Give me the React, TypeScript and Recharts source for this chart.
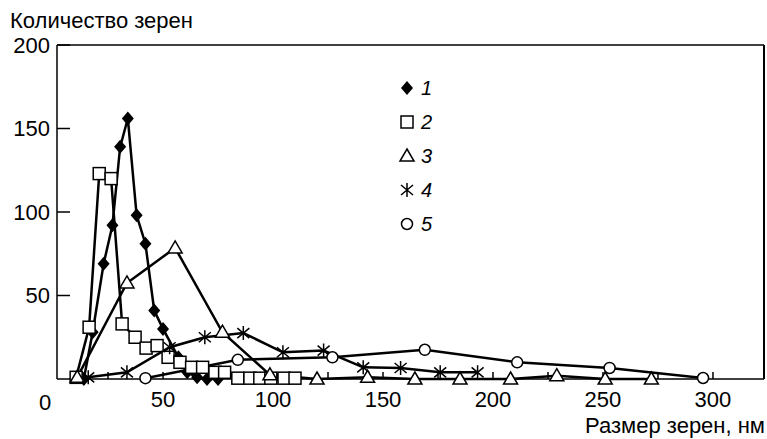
import { LineChart, Line, XAxis, YAxis, ReferenceLine, Legend, Label } from 'recharts';

// серия 1 (ромбы)
const s1X = [14, 18, 23, 27, 30.5, 34, 38, 42, 46, 50, 57, 61, 65.5, 70, 75];
const s1Y = [0, 28, 69, 92, 139, 156, 98, 81, 41, 30, 13, 4, 1, 0, 0];
// серия 2 (квадраты)
const s2X = [10.5, 16.4, 21, 26.4, 31.4, 37.3, 42.3, 47.3, 52.3, 57.7, 63, 68, 73.6, 78, 84, 89.5, 94, 99, 105, 110];
const s2Y = [1, 31, 123, 120, 33, 25, 18.5, 20, 13, 10, 7, 7, 4, 4, 0.5, 0.5, 0.5, 0.5, 0.5, 0.5];
// серия 3 (треугольники)
const s3X = [11, 33.6, 55.5, 77, 98.6, 120, 143, 164.5, 185, 208, 229, 251, 272];
const s3Y = [1, 57.5, 78.5, 28, 2.5, 0, 1, 0, 0, 0, 2, 0, 0];
// серия 4 (звёздочки)
const s4X = [16, 33.6, 53, 69, 86.5, 104.5, 123, 141, 158, 176, 193];
const s4Y = [1, 4, 19, 25, 27.5, 16, 17, 7, 6.6, 4, 4];
// серия 5 (кружки)
const s5X = [42, 84, 127, 169, 211, 253, 295.5];
const s5Y = [0.5, 11.5, 13, 17.5, 10, 6.6, 0.6];

const xTicks = [25, 50, 75, 100, 125, 150, 175, 200, 225, 250, 275, 300];
const yTicks = [50, 100, 150, 200];
const seriesNames = ['1', '2', '3', '4', '5'];

const FONT = '"Liberation Sans", Arial, sans-serif';

const toPoints = (xs: number[], ys: number[]) => xs.map((x, i) => ({ x, y: ys[i] }));

const Diamond = ({ cx, cy }: any) => (
    <path d={`M${cx},${cy - 7}L${cx + 6},${cy}L${cx},${cy + 7}L${cx - 6},${cy}Z`} fill="#000" />
);
const Square = ({ cx, cy }: any) => (
    <rect x={cx - 6} y={cy - 6} width={12} height={12} fill="#fff" stroke="#000" strokeWidth={1.5} />
);
const Triangle = ({ cx, cy }: any) => (
    <path d={`M${cx},${cy - 7}L${cx + 7},${cy + 5}L${cx - 7},${cy + 5}Z`} fill="#fff" stroke="#000" strokeWidth={1.5} />
);
const Star = ({ cx, cy }: any) => (
    <path d={`M${cx},${cy - 7}V${cy + 7}M${cx - 6},${cy - 5}L${cx + 6},${cy + 5}M${cx - 6},${cy + 5}L${cx + 6},${cy - 5}`} stroke="#000" strokeWidth={1.5} fill="none" />
);
const Circle = ({ cx, cy }: any) => (
    <circle cx={cx} cy={cy} r={5.5} fill="#fff" stroke="#000" strokeWidth={1.5} />
);

const shapes = [Diamond, Square, Triangle, Star, Circle];

const dotFn = (Shape: any) => (p: any) => {
    if (p.cx == null || p.cy == null) return <g key={`e-${p.index}`} />;
    return <g key={`d-${p.index}`}><Shape cx={p.cx} cy={p.cy} /></g>;
};

const LegendBox = () => (
    <svg width={80} height={175}>
        {seriesNames.map((n, i) => {
            const Shape = shapes[i];
            const cy = 16 + i * 34;
            return (
                <g key={n}>
                    <Shape cx={12} cy={cy} />
                    <text x={26} y={cy + 7} fontSize={20} fontStyle="italic" fontFamily={FONT} fill="#000">{n}</text>
                </g>
            );
        })}
    </svg>
);

export default function App() {
    const series = [
        toPoints(s1X, s1Y),
        toPoints(s2X, s2Y),
        toPoints(s3X, s3Y),
        toPoints(s4X, s4Y),
        toPoints(s5X, s5Y),
    ];

    return (
        <div style={{ width: 767, height: 439, background: '#fff', position: 'relative' }}>
            <style>{`body{margin:0}`}</style>
            <LineChart width={767} height={439} margin={{ top: 45, right: 3, left: 0, bottom: 0 }}>
                <XAxis
                    type="number"
                    dataKey="x"
                    domain={[1.8, 323.2]}
                    allowDataOverflow
                    ticks={xTicks}
                    interval={0}
                    height={60}
                    tickSize={-7}
                    tickMargin={19}
                    tickFormatter={(v: number) => (v % 50 === 0 ? String(v) : '')}
                    stroke="#000"
                    strokeWidth={1.5}
                    tick={{ fill: '#000', fontSize: 22, fontFamily: FONT }}
                >
                    <Label
                        content={({ viewBox }: any) => (
                            <g>
                                <text x={viewBox.x - 12} y={viewBox.y + 31} textAnchor="middle" fontSize={22} fontFamily={FONT} fill="#000">0</text>
                                <text x={765} y={viewBox.y + 54} textAnchor="end" fontSize={22} fontFamily={FONT} fill="#000">Размер зерен, нм</text>
                            </g>
                        )}
                    />
                </XAxis>
                <YAxis
                    type="number"
                    domain={[0, 200]}
                    ticks={yTicks}
                    interval={0}
                    width={57}
                    tickSize={-13}
                    tickMargin={20}
                    stroke="#000"
                    strokeWidth={1.5}
                    tick={{ fill: '#000', fontSize: 22, fontFamily: FONT }}
                >
                    <Label
                        content={() => (
                            <text x={10} y={28} fontSize={22} fontFamily={FONT} fill="#000">Количество зерен</text>
                        )}
                    />
                </YAxis>
                <ReferenceLine y={200} stroke="#000" strokeWidth={1.5} />
                <ReferenceLine x={323.2} stroke="#000" strokeWidth={2} />
                <Legend
                    layout="vertical"
                    align="center"
                    verticalAlign="middle"
                    content={() => <LegendBox />}
                    wrapperStyle={{ left: 395, top: 72, width: 80, height: 175 }}
                />
                {series.map((d, i) => (
                    <Line
                        key={seriesNames[i]}
                        data={d}
                        dataKey="y"
                        name={seriesNames[i]}
                        stroke="#000"
                        strokeWidth={2.5}
                        dot={dotFn(shapes[i])}
                        activeDot={false}
                        isAnimationActive={false}
                    />
                ))}
            </LineChart>
        </div>
    );
}
